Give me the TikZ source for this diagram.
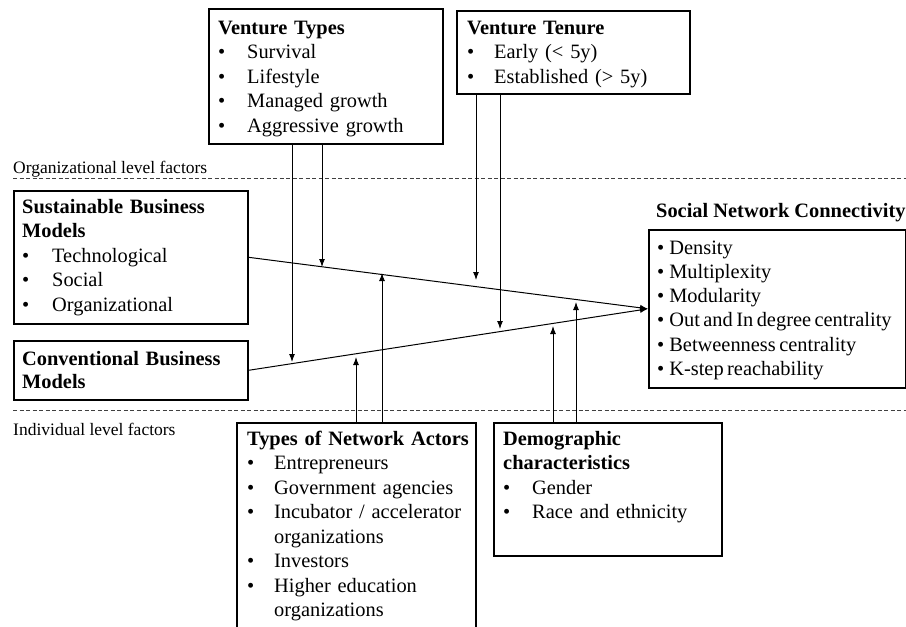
\documentclass[tikz,border=0pt]{standalone}
\usepackage{fontspec}
\setmainfont{Liberation Serif}
\usetikzlibrary{arrows.meta}
\newcommand\bi[1][29pt]{\makebox[#1][l]{\textbullet}}
\newcommand\tightsp{\spaceskip=0.17em\relax}
\begin{document}
\begin{tikzpicture}[x=1pt,y=-1pt,
  bxs/.style={draw, line width=1.6pt, inner sep=0pt, anchor=north west},
  btext/.style={anchor=base west, inner sep=0pt, align=left, text width=#1,
    font=\fontsize{20.4}{24.5}\selectfont},
  levellabel/.style={anchor=base west, inner sep=0pt, font=\fontsize{17.5}{20}\selectfont},
  linkarrow/.style={line width=1pt, -{Latex[length=8pt,width=6pt]}},
  levelline/.style={line width=0.8pt, draw=black!75, dash pattern=on 4pt off 2.5pt}]
\useasboundingbox (0,0) rectangle (906,627);

% level separators
\draw[levelline] (13,178) -- (906,178);
\draw[levelline] (13,410) -- (906,410);
\node[levellabel] (orglbl) at (13,173) {Organizational level factors};
\node[levellabel] (indlbl) at (13,435) {Individual level factors};

% Venture Types
\node[bxs, minimum width=234pt, minimum height=135pt] (vt) at (208,8) {};
\node[btext=300pt] (vtt) at (218,34) {\textbf{Venture Types}\\\bi Survival\\\bi Lifestyle\\\bi Managed growth\\\bi Aggressive growth};

% Venture Tenure
\node[bxs, minimum width=233pt, minimum height=83pt] (ten) at (456,10) {};
\node[btext=300pt] (tent) at (467,34) {\textbf{Venture Tenure}\\\bi[27pt]Early (< 5y)\\\bi[27pt]Established (> 5y)};

% Sustainable Business Models
\node[bxs, minimum width=234pt, minimum height=133pt] (sbm) at (13,190) {};
\node[btext=300pt] (sbmt) at (22,213) {\textbf{Sustainable Business}\\\textbf{Models}\\\bi[30pt]Technological\\\bi[30pt]Social\\\bi[30pt]Organizational};

% Conventional Business Models
\node[bxs, minimum width=234pt, minimum height=59pt] (cbm) at (13,340) {};
\node[btext=300pt, font=\fontsize{20.4}{23.5}\selectfont] (cbmt) at (22,365) {\textbf{Conventional Business}\\\textbf{Models}};

% Social Network Connectivity
\node[anchor=base west, inner sep=0pt, font=\fontsize{20.4}{24.5}\selectfont\bfseries] (snctitle) at (656,217) {Social Network Connectivity};
\node[bxs, minimum width=257pt, minimum height=158pt] (snc) at (648,229) {};
\node[btext=400pt, font=\fontsize{20.4}{24.3}\selectfont] (snct) at (657,254) {\tightsp\textbullet\hspace{5pt}Density\\\textbullet\hspace{5pt}Multiplexity\\\textbullet\hspace{5pt}Modularity\\\textbullet\hspace{5pt}Out and In degree centrality\\\textbullet\hspace{5pt}Betweenness centrality\\\textbullet\hspace{5pt}K-step reachability};

% Types of Network Actors
\node[bxs, minimum width=239pt, minimum height=230pt] (act) at (236,422) {};
\node[btext=300pt] (actt) at (247,445) {\textbf{Types of Network Actors}\\\bi[27pt]Entrepreneurs\\\bi[27pt]Government agencies\\\bi[27pt]Incubator / accelerator\\\hspace*{27pt}organizations\\\bi[27pt]Investors\\\bi[27pt]Higher education\\\hspace*{27pt}organizations};

% Demographic characteristics
\node[bxs, minimum width=228pt, minimum height=133pt] (demo) at (493,422) {};
\node[btext=300pt] (demot) at (503,445) {\textbf{Demographic}\\\textbf{characteristics}\\\bi Gender\\\bi Race and ethnicity};

% main connectors
\draw[linkarrow] (sbm.east) -- (snc.west);
\draw[linkarrow] (cbm.east) -- (snc.west);

% moderator arrow ends
\coordinate (a1) at (292,362);
\coordinate (a2) at (322,267);
\coordinate (a3) at (476,280);
\coordinate (a4) at (500,329);
\coordinate (a5) at (356,357);
\coordinate (a6) at (382,273);
\coordinate (a7) at (553,326);
\coordinate (a8) at (576,302);

\draw[linkarrow] (vt.south -| a1) -- (a1);
\draw[linkarrow] (vt.south -| a2) -- (a2);
\draw[linkarrow] (ten.south -| a3) -- (a3);
\draw[linkarrow] (ten.south -| a4) -- (a4);
\draw[linkarrow] (act.north -| a5) -- (a5);
\draw[linkarrow] (act.north -| a6) -- (a6);
\draw[linkarrow] (demo.north -| a7) -- (a7);
\draw[linkarrow] (demo.north -| a8) -- (a8);
\end{tikzpicture}
\end{document}
